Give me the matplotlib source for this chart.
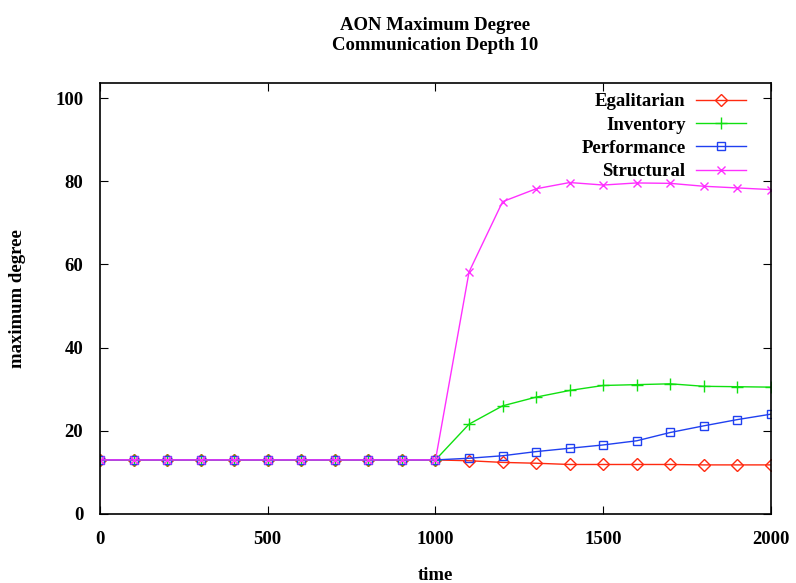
import matplotlib
matplotlib.use('Agg')
import matplotlib.pyplot as plt

plt.rcParams['font.family'] = ['Liberation Serif', 'DejaVu Serif']
plt.rcParams['font.weight'] = 'bold'
plt.rcParams['axes.titleweight'] = 'bold'
plt.rcParams['axes.labelweight'] = 'bold'

time = [0, 100, 200, 300, 400, 500, 600, 700, 800, 900, 1000,
        1100, 1200, 1300, 1400, 1500, 1600, 1700, 1800, 1900, 2000]
base = [13] * 11
egalitarian = base + [12.8, 12.4, 12.2, 11.9, 11.9, 11.9, 11.9, 11.8, 11.8, 11.8]
inventory = base + [21.6, 26.0, 28.1, 29.7, 30.9, 31.1, 31.3, 30.7, 30.6, 30.5]
performance = base + [13.4, 14.0, 15.0, 15.8, 16.6, 17.6, 19.6, 21.2, 22.7, 24.0]
structural = base + [58.2, 75.1, 78.2, 79.7, 79.1, 79.6, 79.5, 78.8, 78.4, 78.0]

fig = plt.figure(figsize=(7.96, 5.83), dpi=100)
ax = fig.add_axes([0.1256, 0.1184, 0.843, 0.739])

ax.plot(time, egalitarian, color='#ff2a10', lw=1, marker='D', ms=6, mfc='none', mew=1, label='Egalitarian')
ax.plot(time, inventory, color='#10e010', lw=1, marker='+', ms=9, mew=1, label='Inventory')
ax.plot(time, performance, color='#2040f0', lw=1, marker='s', ms=6, mfc='none', mew=1, label='Performance')
ax.plot(time, structural, color='#ff30ff', lw=1, marker='x', ms=6, mew=1, label='Structural')

ax.set_xlim(0, 2000)
ax.set_ylim(0, 103.6)
ax.set_xticks([0, 500, 1000, 1500, 2000])
ax.set_yticks([0, 20, 40, 60, 80, 100])
ax.tick_params(direction='in', top=True, right=True, labelsize=13.5, length=6, pad=12)
for s in ax.spines.values():
    s.set_linewidth(1.2)

ax.set_xlabel('time', fontsize=13.5, labelpad=14)
ax.set_ylabel('maximum degree', fontsize=13.5, labelpad=21)
ax.set_title('AON Maximum Degree\nCommunication Depth 10', fontsize=13.5, pad=24, linespacing=1.25)

ax.legend(loc='upper right', bbox_to_anchor=(0.983, 1.007), frameon=False, markerfirst=False,
          fontsize=13.5, handlelength=2.7, handletextpad=0.55, labelspacing=0.33, borderaxespad=0.3)

fig.savefig('out.png', dpi=100)
